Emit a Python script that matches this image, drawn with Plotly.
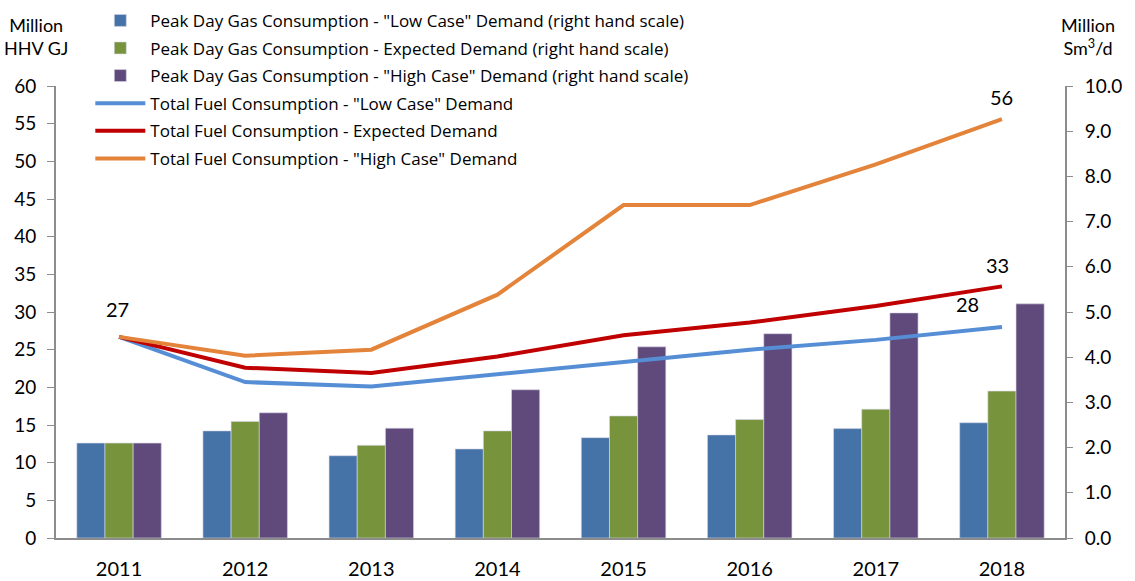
import plotly.graph_objects as go

years = ["2011", "2012", "2013", "2014", "2015", "2016", "2017", "2018"]

# Peak day gas consumption (Million Sm3/d, right hand scale)
peak_low = [2.10, 2.37, 1.82, 1.97, 2.22, 2.28, 2.42, 2.55]
peak_exp = [2.10, 2.58, 2.05, 2.37, 2.70, 2.62, 2.85, 3.25]
peak_high = [2.10, 2.77, 2.43, 3.28, 4.23, 4.52, 4.98, 5.18]

# Total fuel consumption (Million HHV GJ, left hand scale)
fuel_low = [26.7, 20.7, 20.1, 21.7, 23.4, 25.0, 26.3, 28.0]
fuel_exp = [26.7, 22.6, 21.9, 24.1, 26.9, 28.6, 30.8, 33.4]
fuel_high = [26.7, 24.2, 25.0, 32.3, 44.2, 44.2, 49.6, 55.6]

left_ticks = list(range(0, 61, 5))
right_ticks = [i * 1.0 for i in range(0, 11)]

FONT = "Lato, 'Open Sans', sans-serif"
LFONT = "'Open Sans', sans-serif"
AX = "#8c8c8c"

fig = go.Figure()

bar_specs = [
    ("Peak Day Gas Consumption - \"Low Case\" Demand (right hand scale)", peak_low, "#4572A7"),
    ("Peak Day Gas Consumption - Expected Demand (right hand scale)", peak_exp, "#77933C"),
    ("Peak Day Gas Consumption - \"High Case\" Demand (right hand scale)", peak_high, "#604A7B"),
]
for i, (name, vals, col) in enumerate(bar_specs):
    fig.add_trace(go.Bar(x=years, y=vals, name=name,
                         marker=dict(color=col, line=dict(width=0.6, color="#d8d8e8")),
                         yaxis="y", legendgroup=f"g{i}"))

line_specs = [
    ("Total Fuel Consumption - \"Low Case\" Demand", fuel_low, "#558ED5"),
    ("Total Fuel Consumption - Expected Demand", fuel_exp, "#C00000"),
    ("Total Fuel Consumption - \"High Case\" Demand", fuel_high, "#E3843A"),
]
for i, (name, vals, col) in enumerate(line_specs):
    fig.add_trace(go.Scatter(x=years, y=vals, name=name, mode="lines",
                             line=dict(color=col, width=4), yaxis="y2", legendgroup=f"l{i}"))

# value labels (x given as category index)
first, last = 0, len(years) - 1
lab_font = dict(size=20, color="#000", family=FONT)
fig.add_annotation(x=first, y=fuel_high[first], xref="x", yref="y2", text=f"{round(fuel_high[first])}",
                   showarrow=False, yshift=28, xshift=-2, font=lab_font)
fig.add_annotation(x=last, y=fuel_high[last], xref="x", yref="y2", text=f"{round(fuel_high[last])}",
                   showarrow=False, yshift=22, font=lab_font)
fig.add_annotation(x=last, y=fuel_exp[last], xref="x", yref="y2", text=f"{round(fuel_exp[last])}",
                   showarrow=False, yshift=21, xshift=-4, font=lab_font)
fig.add_annotation(x=last, y=fuel_low[last], xref="x", yref="y2", text=f"{round(fuel_low[last])}",
                   showarrow=False, yshift=23, xshift=-34, font=lab_font)

# axis titles
fig.add_annotation(xref="paper", yref="paper", x=-0.02, y=1.11, xanchor="center", yanchor="middle",
                   text="Million<br>HHV GJ", showarrow=False, align="center",
                   font=dict(size=18, color="#000", family=FONT))
fig.add_annotation(xref="paper", yref="paper", x=1.023, y=1.11, xanchor="center", yanchor="middle",
                   text="Million<br>Sm<sup>3</sup>/d", showarrow=False, align="center",
                   font=dict(size=18, color="#000", family=FONT))

fig.update_layout(
    width=1135, height=581,
    margin=dict(l=56, r=70, t=86, b=43, autoexpand=False),
    paper_bgcolor="white", plot_bgcolor="white",
    barmode="group", bargap=0.33, bargroupgap=0,
    font=dict(family=FONT, size=18, color="#000"),
    showlegend=True,
    legend=dict(x=0.034, y=1.184, xanchor="left", yanchor="top", bgcolor="rgba(0,0,0,0)",
                font=dict(size=17, family=LFONT), tracegroupgap=2.5, itemwidth=50,
                traceorder="grouped"),
    xaxis=dict(type="category", range=[-0.5, len(years) - 0.5], autorange=False,
               showline=True, linecolor=AX, linewidth=2, ticks="",
               showgrid=False, tickfont=dict(size=20), ticklabelstandoff=12),
    yaxis=dict(side="right", range=[0, 10], tickvals=right_ticks,
               ticktext=[f"{v:.1f}" for v in right_ticks], showline=True, linecolor=AX,
               linewidth=2, ticks="outside", ticklen=6, tickcolor=AX, showgrid=False,
               zeroline=False, tickfont=dict(size=19), ticklabelstandoff=8),
    yaxis2=dict(side="left", overlaying="y", range=[0, 60], tickvals=left_ticks,
                showline=True, linecolor=AX, linewidth=2, ticks="outside", ticklen=7,
                tickcolor=AX, showgrid=False, zeroline=False, tickfont=dict(size=19),
                ticklabelstandoff=7),
)

fig.write_html("out.html", config={"displayModeBar": False},
               post_script="document.body.style.margin='0';document.body.style.overflow='hidden';")
